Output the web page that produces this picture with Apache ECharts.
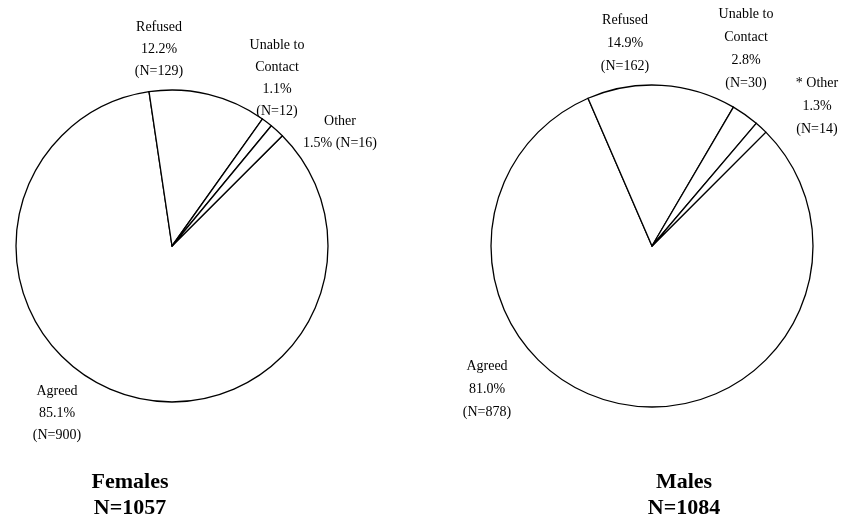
<!DOCTYPE html>
<html>
<head>
<meta charset="utf-8">
<script src="https://cdn.jsdelivr.net/npm/echarts@6/dist/echarts.min.js"></script>
<style>
html,body{margin:0;padding:0;background:#fff;}
#c{width:849px;height:529px;}
</style>
</head>
<body>
<div id="c"></div>
<script>
// Data
const categories = ['Agreed', 'Refused', 'Unable to\nContact', 'Other'];
const femaleCounts = [900, 129, 12, 16];
const femalePct = ['85.1', '12.2', '1.1', '1.5'];
const maleCounts = [878, 162, 30, 14];
const malePct = ['81.0', '14.9', '2.8', '1.3'];
const femaleLabelNames = ['Agreed', 'Refused', 'Unable to\nContact', 'Other'];
const maleLabelNames = ['Agreed', 'Refused', 'Unable to\nContact', '* Other'];
const groupTitles = ['Females\nN=1057', 'Males\nN=1084'];

// Label placement (layout only)
const labelPos = [
  [[57, 413], [159, 49], [277, 78], [340, 132]],
  [[487, 389], [625, 43], [746, 49], [817, 106]]
];

function buildData(counts) {
  return categories.map((c, i) => ({ name: c, value: counts[i] }));
}

function fmt(names, pct, seriesIdx) {
  return function (p) {
    const i = p.dataIndex;
    if (seriesIdx === 0 && i === 3) {
      return names[i] + '\n' + pct[i] + '% (N=' + p.value + ')';
    }
    return names[i] + '\n' + pct[i] + '%\n(N=' + p.value + ')';
  };
}

const common = {
  type: 'pie',
  startAngle: 45,
  clockwise: true,
  avoidLabelOverlap: false,
  silent: true,
  animation: false,
  itemStyle: { color: '#ffffff', borderColor: '#000000', borderWidth: 1.3 },
  labelLine: { show: false },
  emphasis: { disabled: true }
};

const chart = echarts.init(document.getElementById('c'), null, { renderer: 'canvas' });
chart.setOption({
  backgroundColor: '#ffffff',
  animation: false,
  series: [
    Object.assign({}, common, {
      center: [172, 246],
      radius: 156,
      data: buildData(femaleCounts),
      label: {
        show: true, position: 'outside', color: '#000',
        fontFamily: 'Liberation Serif', fontSize: 14, lineHeight: 22, align: 'center',
        formatter: fmt(femaleLabelNames, femalePct, 0)
      },
      labelLayout: function (p) {
        const q = labelPos[0][p.dataIndex];
        return { x: q[0], y: q[1], align: 'center', verticalAlign: 'middle' };
      }
    }),
    Object.assign({}, common, {
      center: [652, 246],
      radius: 161,
      data: buildData(maleCounts),
      label: {
        show: true, position: 'outside', color: '#000',
        fontFamily: 'Liberation Serif', fontSize: 14, lineHeight: 23, align: 'center',
        formatter: fmt(maleLabelNames, malePct, 1)
      },
      labelLayout: function (p) {
        const q = labelPos[1][p.dataIndex];
        return { x: q[0], y: q[1], align: 'center', verticalAlign: 'middle' };
      }
    })
  ],
  graphic: [
    {
      type: 'text', x: 130, y: 495,
      style: {
        text: groupTitles[0], fill: '#000', font: 'bold 22px "Liberation Serif"',
        lineHeight: 26, align: 'center', verticalAlign: 'middle'
      }
    },
    {
      type: 'text', x: 684, y: 495,
      style: {
        text: groupTitles[1], fill: '#000', font: 'bold 22px "Liberation Serif"',
        lineHeight: 26, align: 'center', verticalAlign: 'middle'
      }
    }
  ]
});
</script>
</body>
</html>
